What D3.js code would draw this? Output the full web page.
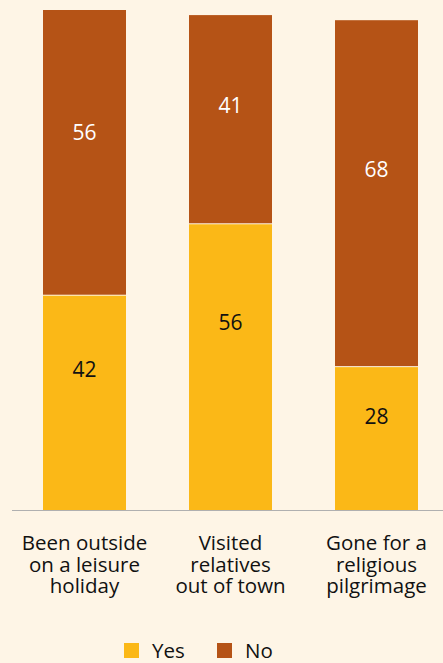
<html>
<head>
<script src="https://d3js.org/d3.v7.min.js"></script>
<style>
  body { margin: 0; background: #fef5e6; }
  text { font-family: "Open Sans", sans-serif; fill: #111; }
</style>
</head>
<body>
<script>
var categories = [["Been outside", "on a leisure", "holiday"], ["Visited", "relatives", "out of town"], ["Gone for a", "religious", "pilgrimage"]];
var yesValues = [42, 56, 28];
var noValues = [56, 41, 68];
var seriesNames = ["Yes", "No"];
var colors = ["#fbb817", "#b55316"];

var W = 443, H = 663;
var svg = d3.select("body").append("svg").attr("width", W).attr("height", H);

var baseY = 510;
var x = d3.scaleBand().domain([0, 1, 2]).range([43, 418]).paddingInner(0.4315).paddingOuter(0);
var y = d3.scaleLinear().domain([0, 98]).range([baseY, 10]);

// where the value label sits inside a segment, measured from its top
var labelFrac = [0.345, 0.43];

// stacked bars
categories.forEach(function(c, i) {
  var stacks = [[0, yesValues[i]], [yesValues[i], yesValues[i] + noValues[i]]];
  stacks.forEach(function(s, j) {
    var top = y(s[1]), bot = y(s[0]);
    svg.append("rect")
      .attr("x", x(i))
      .attr("width", x.bandwidth())
      .attr("y", top)
      .attr("height", bot - top - (j == 0 ? 0 : 1))
      .attr("fill", colors[j]);
    svg.append("text")
      .attr("x", x(i) + x.bandwidth() / 2)
      .attr("y", top + (bot - top) * labelFrac[j])
      .attr("dy", "0.36em")
      .attr("text-anchor", "middle")
      .style("font-size", "21px")
      .style("fill", j == 0 ? "#111" : "#fff")
      .text(j == 0 ? yesValues[i] : noValues[i]);
  });
});

// axis line
svg.append("line").attr("x1", 12).attr("x2", W).attr("y1", baseY + 0.5).attr("y2", baseY + 0.5)
  .attr("stroke", "#b0b0b0").attr("stroke-width", 1);

// category labels
categories.forEach(function(lines, i) {
  var t = svg.append("text")
    .attr("text-anchor", "middle")
    .style("font-size", "20.5px");
  lines.forEach(function(l, k) {
    t.append("tspan").attr("x", x(i) + x.bandwidth() / 2).attr("y", 550 + k * 21.7).text(l);
  });
});

// legend
var legendX = [124, 217];
seriesNames.forEach(function(n, j) {
  svg.append("rect").attr("x", legendX[j]).attr("y", 643).attr("width", 15).attr("height", 15).attr("fill", colors[j]);
  svg.append("text").attr("x", legendX[j] + 28).attr("y", 658).style("font-size", "20.5px").text(n);
});
</script>
</body>
</html>
